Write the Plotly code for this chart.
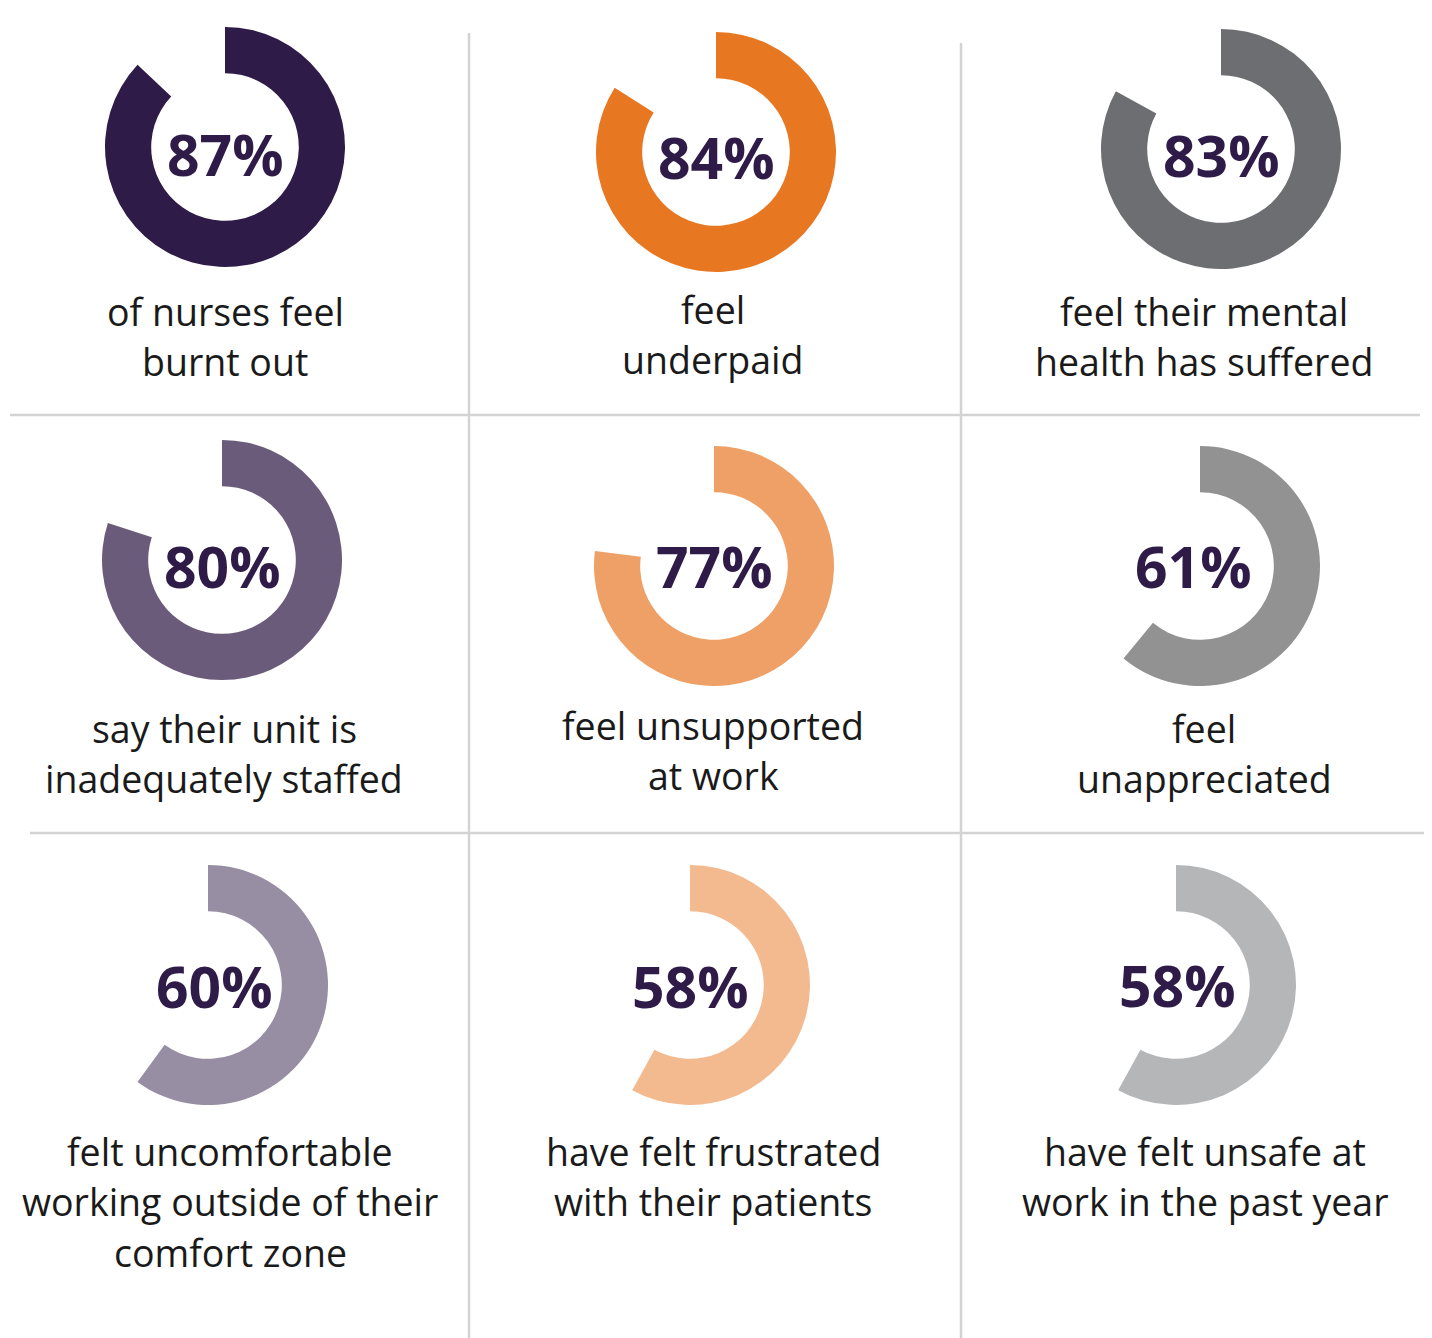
import plotly.graph_objects as go

# ---- data ----
pct_values = [87, 84, 83, 80, 77, 61, 60, 58, 58]
pct_labels = ["87%", "84%", "83%", "80%", "77%", "61%", "60%", "58%", "58%"]
descriptions = [
    ["of nurses feel", "burnt out"],
    ["feel", "underpaid"],
    ["feel their mental", "health has suffered"],
    ["say their unit is", "inadequately staffed"],
    ["feel unsupported", "at work"],
    ["feel", "unappreciated"],
    ["felt uncomfortable", "working outside of their", "comfort zone"],
    ["have felt frustrated", "with their patients"],
    ["have felt unsafe at", "work in the past year"],
]
colors = ["#2e1b47", "#e87722", "#6d6e71", "#6b5b7b", "#eea066",
          "#929292", "#988ea3", "#f3b98f", "#b5b6b8"]

# ---- layout (page pixels; page body has an 8px margin) ----
OFF = 8
W, H = 1432 - OFF, 1338 - OFF
centers = [(225, 147), (716, 152), (1221, 149),
           (222, 560), (714, 566), (1200, 566),
           (208, 985), (690, 985), (1176, 985)]
pct_pos = [(225, 154), (716, 157), (1221, 155),
           (222, 566), (714, 566), (1193, 566),
           (214, 986), (690, 986), (1177, 985)]
desc_x = [225, 713, 1204, 224, 713, 1204, 230, 713, 1205]
desc_y0 = [311, 309, 311, 728, 725, 728, 1151, 1151, 1151]
R = 120
LINE = 50.5

FONT = "Open Sans"
PFONT = "Open Sans"
fig = go.Figure()

def px(x):
    return (x - OFF) / W

def py(y):
    return 1 - (y - OFF) / H

for i, v in enumerate(pct_values):
    cx, cy = centers[i]
    fig.add_trace(go.Pie(
        values=[v, 100 - v],
        marker=dict(colors=[colors[i], "rgba(0,0,0,0)"], line=dict(width=0)),
        hole=0.615, sort=False, direction="clockwise", rotation=0,
        textinfo="none", hoverinfo="skip", showlegend=False,
        domain=dict(x=[px(cx - R), px(cx + R)], y=[py(cy + R), py(cy - R)]),
    ))
    tx, ty = pct_pos[i]
    fig.add_annotation(x=px(tx), y=py(ty), xref="paper", yref="paper",
                       text="<b>" + pct_labels[i] + "</b>", showarrow=False,
                       xanchor="center", yanchor="middle",
                       font=dict(family=PFONT, size=57, color="#2e1b47"))
    for j, line in enumerate(descriptions[i]):
        fig.add_annotation(x=px(desc_x[i]), y=py(desc_y0[i] + j * LINE),
                           xref="paper", yref="paper", text=line, showarrow=False,
                           xanchor="center", yanchor="middle",
                           font=dict(family=FONT, size=37.5, color="#1a1a1a"))

# grid lines
grid = "#d3d3d3"
for (x0, y0, x1, y1) in [(469, 33, 469, 1338), (961, 43, 961, 1338),
                         (10, 415, 1420, 415), (30, 833, 1432, 833)]:
    fig.add_shape(type="line", xref="paper", yref="paper",
                  x0=px(x0), y0=py(y0), x1=px(x1), y1=py(y1),
                  line=dict(color=grid, width=2.5))

fig.update_layout(width=W, height=H, margin=dict(l=0, r=0, t=0, b=0),
                  paper_bgcolor="white", plot_bgcolor="white")
fig.write_html("out.html")
